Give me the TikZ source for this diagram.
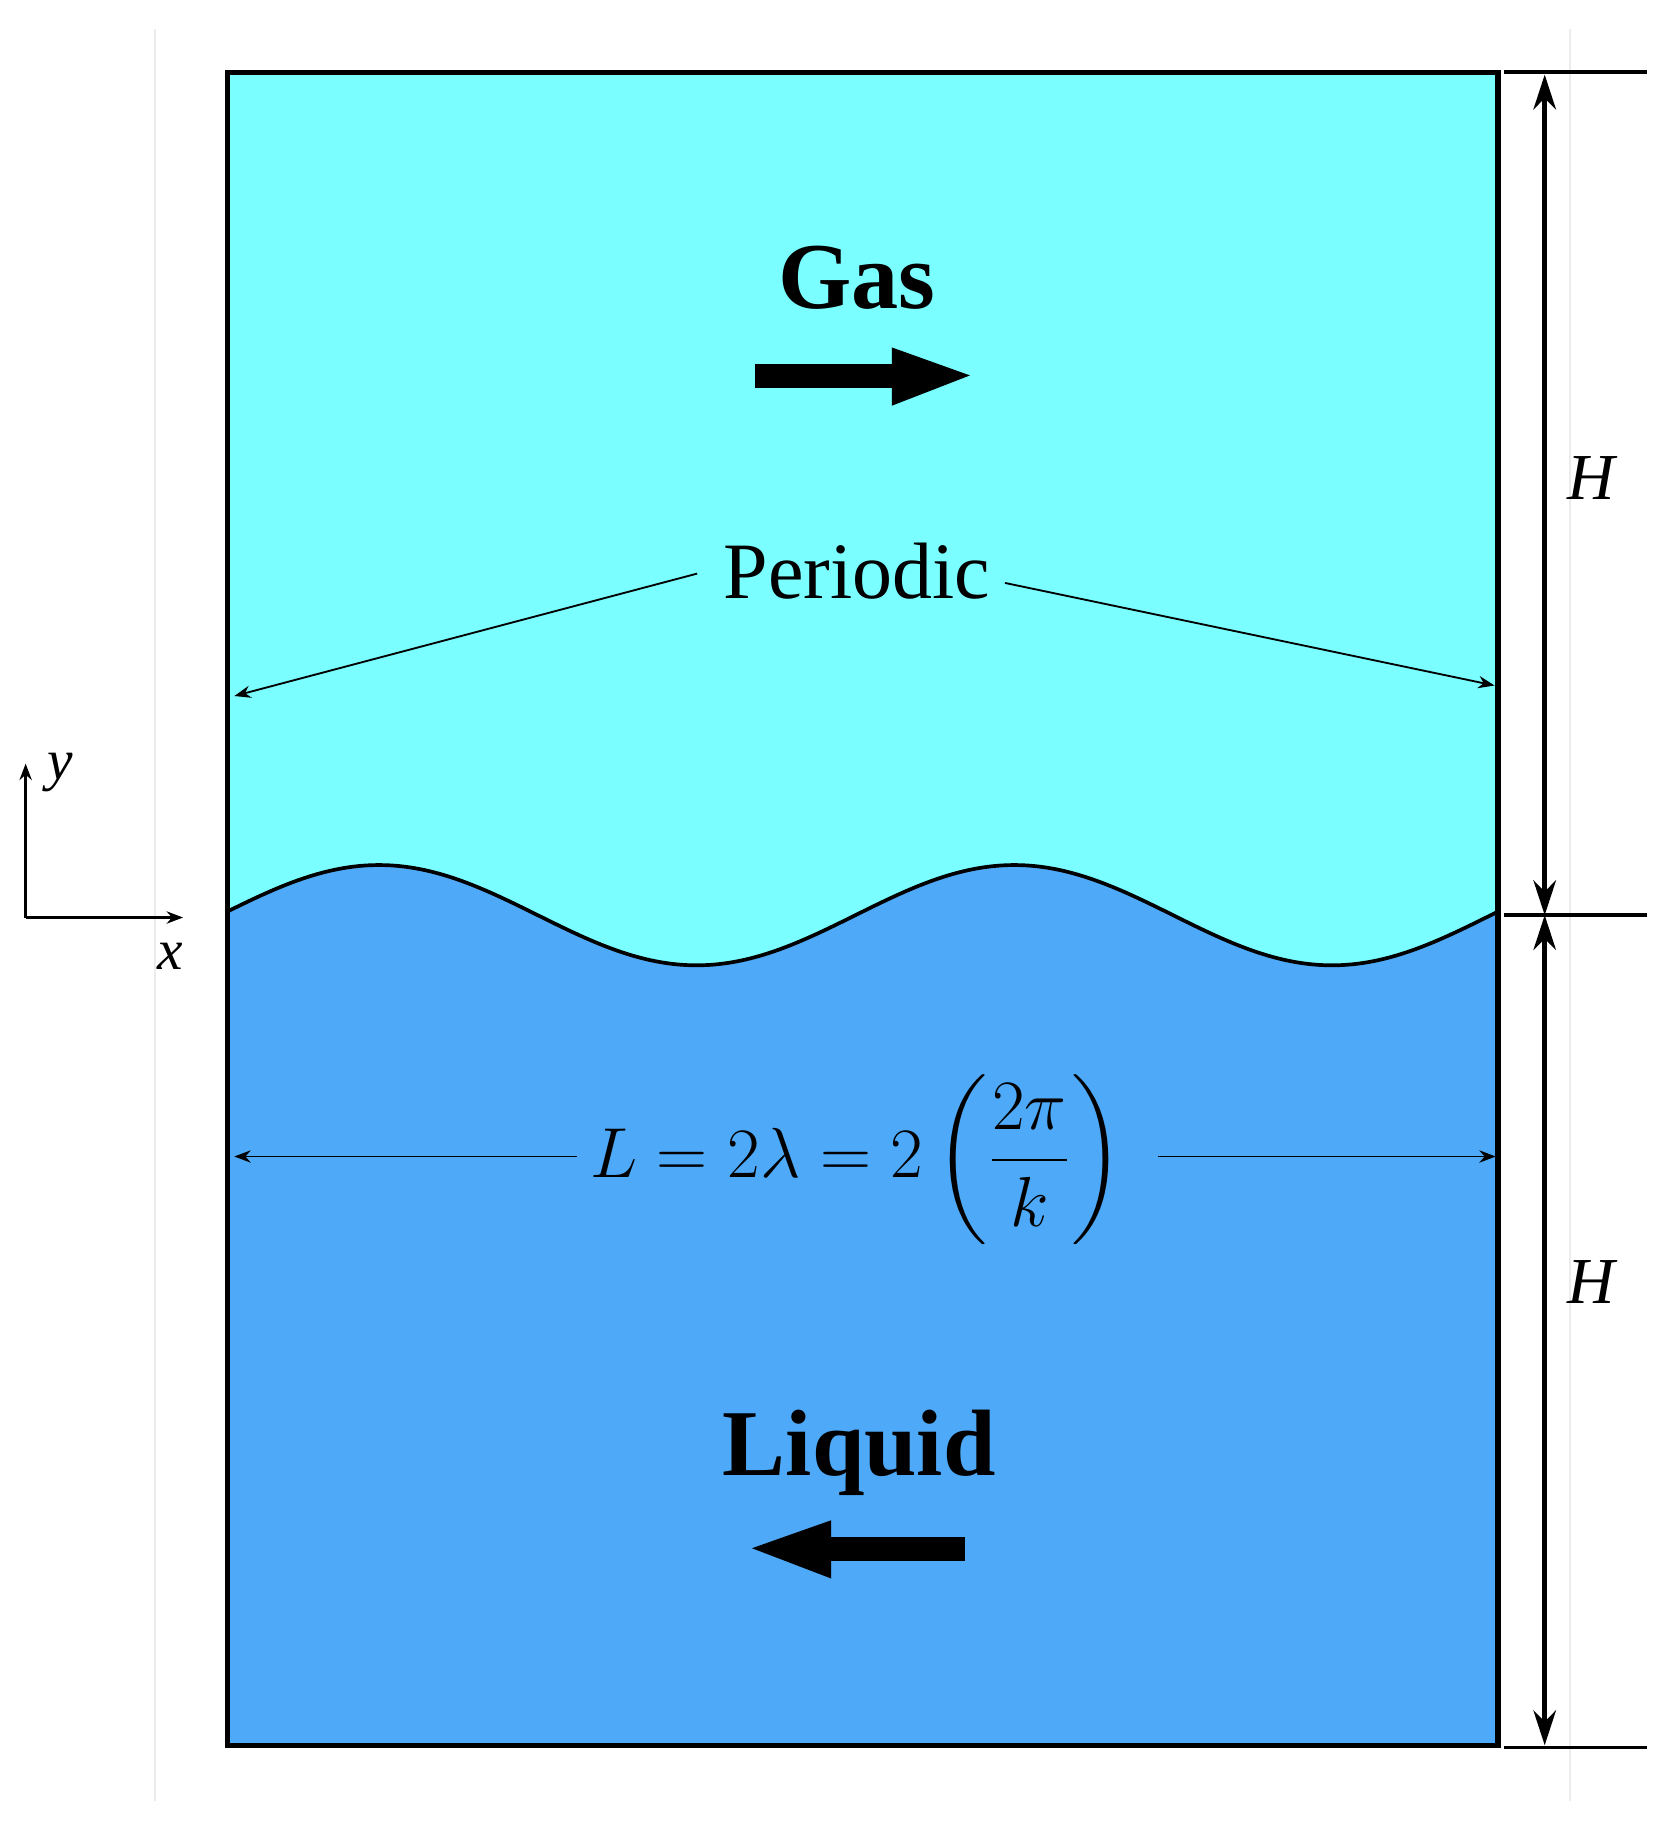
\documentclass[tikz,border=0pt]{standalone}
\usepackage{amsmath}
\usepackage[no-math]{fontspec}
\setmainfont{Liberation Serif}
\usetikzlibrary{arrows.meta}
\definecolor{gasc}{HTML}{7AFEFF}
\definecolor{liqc}{HTML}{4EA9F8}
\begin{document}
\begin{tikzpicture}[x=0.01cm,y=-0.01cm,
  thin arr/.style={-{Stealth[length=4pt,width=3pt]},line width=0.45pt},
  dim arr/.style={{Stealth[length=8.5pt,width=5.5pt]}-{Stealth[length=8.5pt,width=5.5pt]},line width=1.1pt},
  lbl/.style={inner sep=1pt}]
\useasboundingbox (0,0) rectangle (1440,1568);
\draw[gray!15,line width=0.5pt] (133,25) -- (133,1545);
\draw[gray!15,line width=0.5pt] (1347,25) -- (1347,1545);
% regions
\fill[liqc] (195,62) rectangle (1285,1497);
\fill[gasc] (195,62) -- (1285,62) -- plot[domain=1285:195,samples=200,smooth] (\x,{785-43*cos(deg(2*pi*(\x-325)/545))}) -- cycle;
\draw[line width=0.9pt] plot[domain=195:1285,samples=200,smooth] (\x,{785-43*cos(deg(2*pi*(\x-325)/545))});
\draw[line width=1.3pt] (195,62) rectangle (1285,1497);
% dimension lines
\coordinate (t1) at (1290,62); \coordinate (t2) at (1413,62);
\coordinate (m1) at (1290,785); \coordinate (m2) at (1413,785);
\coordinate (b1) at (1290,1499); \coordinate (b2) at (1413,1499);
\draw[line width=0.9pt] (t1)--(t2) (m1)--(m2) (b1)--(b2);
\coordinate (vt) at (1325,64); \coordinate (vm) at (1325,785); \coordinate (vb) at (1325,1497);
\draw[dim arr] (vt)--(vm);
\draw[dim arr] (vm)--(vb);
\node[lbl,font=\fontsize{16}{18}\selectfont\itshape] (h1) at (1365,410) {H};
\node[lbl,font=\fontsize{16}{18}\selectfont\itshape] (h2) at (1365,1100) {H};
% gas
\node[lbl,font=\fontsize{23}{25}\selectfont\bfseries] (gas) at (735,238) {Gas};
\fill (648,312) rectangle (768,333);
\fill (765,298) -- (832,322) -- (765,348) -- cycle;
% liquid
\node[lbl,font=\fontsize{23}{25}\selectfont\bfseries] (liq) at (737,1246) {Liquid};
\fill (828,1318) rectangle (710,1339);
\fill (713,1304) -- (645,1328) -- (713,1354) -- cycle;
% periodic
\node[lbl,font=\fontsize{19.5}{21}\selectfont] (per) at (735,490) {Periodic};
\coordinate (pl) at (201,597); \coordinate (pr) at (1282,588);
\draw[thin arr] (598,492) -- (pl);
\draw[thin arr] (862,500) -- (pr);
% L formula
\node[lbl,font=\fontsize{18.5}{20}\selectfont] (form) at (735,995) {$L=2\lambda=2\left(\dfrac{2\pi}{k}\right)$};
\coordinate (ll) at (201,992); \coordinate (lr) at (1283,992);
\draw[thin arr] (495,992) -- (ll);
\draw[thin arr] (993,992) -- (lr);
% axes
\coordinate (o) at (22,787);
\coordinate (ya) at (22,655); \coordinate (xa) at (157,787);
\draw[-{Stealth[length=4pt,width=3pt]},line width=0.6pt] (o)--(ya);
\draw[-{Stealth[length=4pt,width=3pt]},line width=0.6pt] (o)--(xa);
\node[lbl,font=\fontsize{14}{16}\selectfont\itshape] (yl) at (52,663) {y};
\node[lbl,font=\fontsize{14}{16}\selectfont\itshape] (xl) at (146,820) {x};
\end{tikzpicture}
\end{document}
